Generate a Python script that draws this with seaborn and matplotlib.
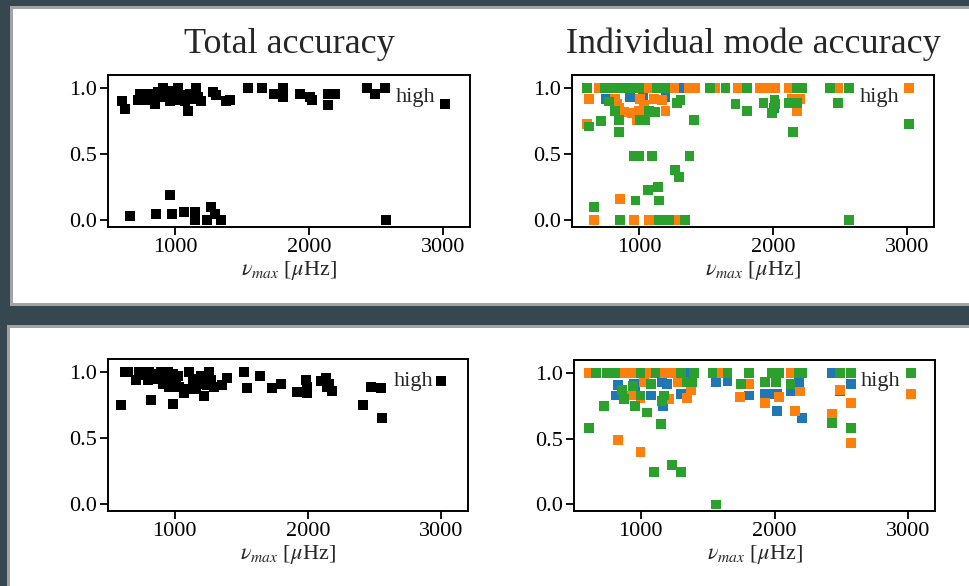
import matplotlib
matplotlib.use("Agg")
import matplotlib.pyplot as plt
from matplotlib.patches import Rectangle
import seaborn as sns
import pandas as pd

# ---- total accuracy per star (upper row) ----
tot_hi_nu = [604, 629, 664, 724, 736, 749, 774, 799, 823, 848, 856, 873, 898, 910, 935, 960,
             963, 975, 985, 998, 1022, 1035, 1060, 1069, 1072, 1097, 1110, 1134, 1149, 1149,
             1159, 1172, 1197, 1236, 1269, 1284, 1299, 1309, 1341, 1383, 1408, 1545, 1649,
             1737, 1806, 1806, 1933, 2007, 2020, 2142, 2142, 2194, 2433, 2493, 2567, 2572, 3015]
tot_hi_acc = [0.90, 0.84, 0.03, 0.91, 0.96, 0.91, 0.95, 0.96, 0.91, 0.88, 0.05, 0.97, 0.93,
              1.00, 0.93, 0.90, 0.19, 0.05, 0.98, 0.91, 1.00, 0.91, 0.95, 0.06, 0.90, 0.83,
              0.96, 0.92, 0.06, 0.00, 1.00, 0.93, 0.90, 0.00, 0.10, 0.97, 0.05, 0.95, 0.00,
              0.90, 0.91, 1.00, 1.00, 0.96, 1.00, 0.93, 0.96, 0.93, 0.91, 0.96, 0.87, 0.96,
              1.00, 0.96, 1.00, 0.00, 0.88]

# ---- total accuracy per star (lower row) ----
tot_lo_nu = [595, 624, 649, 711, 736, 761, 774, 799, 811, 823, 836, 873, 898, 910, 935, 948,
             960, 985, 990, 1010, 1022, 1035, 1072, 1085, 1110, 1134, 1147, 1159, 1184, 1197,
             1222, 1246, 1259, 1271, 1296, 1358, 1396, 1520, 1540, 1640, 1729, 1796, 1920,
             1983, 1995, 1995, 2095, 2133, 2145, 2158, 2182, 2413, 2473, 2547, 2555, 3000]
tot_lo_acc = [0.75, 1.00, 1.00, 0.94, 1.00, 1.00, 0.98, 0.94, 1.00, 0.79, 0.99, 0.95, 1.00,
              0.91, 0.96, 1.00, 0.89, 0.99, 0.76, 0.93, 0.97, 0.89, 0.84, 0.87, 1.00, 0.95,
              0.90, 0.87, 0.91, 0.97, 0.82, 0.90, 1.00, 0.94, 0.89, 0.90, 0.96, 1.00, 0.88,
              0.97, 0.88, 0.91, 0.85, 0.94, 0.89, 0.84, 0.93, 0.96, 0.89, 0.91, 0.86, 0.75,
              0.89, 0.88, 0.65, 0.93]

# ---- individual mode accuracy (upper row) ----
l0_hi_nu = [754, 933, 1032, 1197, 1306, 2005, 2152]
l0_hi_acc = [0.92, 0.93, 0.93, 0.93, 1.00, 0.85, 0.92]
l1_hi_nu = [699, 1072, 1259, 1371, 1421, 1570, 1737, 1905, 1960, 2015, 2115, 2483, 3015,
            624, 823, 1010, 1110, 1172, 836, 848, 886, 948, 998, 1035, 1197, 985, 612, 856,
            2140, 2202, 2177, 662, 960, 1072, 1284]
l1_hi_acc = [1.00, 1.00, 1.00, 1.00, 1.00, 1.00, 1.00, 1.00, 1.00, 1.00, 1.00, 1.00, 1.00,
             0.92, 0.92, 0.92, 0.92, 0.91, 0.88, 0.85, 0.82, 0.81, 0.83, 0.87, 0.83, 0.76,
             0.73, 0.16, 0.92, 0.92, 0.83, 0.00, 0.00, 0.00, 0.00]
l2_hi_nu = [612, 749, 811, 873, 935, 998, 1134, 1192, 1528, 1645, 1806, 2177, 2214, 2426, 2563,
            1309, 1284, 774, 823, 1072, 1122, 1010, 1047, 624, 719, 848, 848, 1408, 960, 998,
            1097, 1376, 1271, 1296, 1067, 1142, 973, 1147, 662, 861, 1147, 1222, 1341, 1719,
            1806, 1928, 2010, 2015, 1990, 2115, 2177, 2147, 2483, 3015, 2568]
l2_hi_acc = [1.00, 1.00, 1.00, 1.00, 1.00, 1.00, 1.00, 1.00, 1.00, 1.00, 1.00, 1.00, 1.00,
             1.00, 1.00, 0.91, 0.89, 0.90, 0.83, 0.83, 0.82, 0.76, 0.76, 0.71, 0.75, 0.76,
             0.67, 0.76, 0.49, 0.49, 0.49, 0.49, 0.38, 0.33, 0.23, 0.25, 0.15, 0.15, 0.10,
             0.00, 0.00, 0.00, 0.00, 0.88, 0.83, 0.89, 0.91, 0.88, 0.81, 0.89, 0.89, 0.67,
             0.89, 0.73, 0.00]

# ---- individual mode accuracy (lower row) ----
l0_lo_nu = [830, 947, 1160, 1198, 1335, 1561, 1648, 1811, 810, 960, 1078, 1168, 1298, 1931,
            1969, 2019, 2126, 2181, 2019, 2206, 2427, 2489, 2569]
l0_lo_acc = [0.91, 0.92, 0.93, 0.92, 1.00, 0.93, 0.94, 0.83, 0.83, 0.88, 0.83, 0.75, 0.84,
             0.84, 0.84, 0.84, 0.86, 0.93, 0.71, 0.66, 1.00, 0.86, 0.92]
l1_lo_nu = [610, 872, 927, 1053, 1172, 1240, 1578, 2119, 1023, 1278, 1373, 1811, 1744, 935,
            998, 1210, 1343, 2031, 1931, 2189, 2151, 2489, 2569, 2432, 2569, 830, 998, 3020]
l1_lo_acc = [1.00, 1.00, 1.00, 1.00, 1.00, 1.00, 1.00, 1.00, 0.93, 0.93, 0.87, 0.92, 0.82,
             0.83, 0.81, 0.80, 0.81, 0.82, 0.77, 0.86, 0.71, 0.87, 0.77, 0.69, 0.47, 0.49,
             0.40, 0.84]
l2_lo_nu = [667, 747, 810, 998, 1110, 1298, 1398, 1536, 1648, 1811, 1981, 2031, 2181, 2206,
            2487, 2569, 3020, 1078, 1348, 1386, 1748, 860, 872, 943, 998, 1172, 1160, 722,
            955, 1048, 1148, 610, 1230, 1098, 1298, 1561, 1931, 2011, 2119, 2432, 2569]
l2_lo_acc = [1.00, 1.00, 1.00, 1.00, 1.00, 1.00, 1.00, 1.00, 1.00, 1.00, 1.00, 1.00, 1.00,
             1.00, 1.00, 1.00, 1.00, 0.92, 0.93, 0.93, 0.92, 0.87, 0.80, 0.90, 0.83, 0.83,
             0.79, 0.75, 0.75, 0.70, 0.61, 0.58, 0.30, 0.25, 0.25, 0.00, 0.93, 0.93, 0.92,
             0.62, 0.58]

mode_names = ["l=0", "l=1", "l=2"]
mode_colors = ["#1f77b4", "#ff7f0e", "#2ca02c"]
x_ticks = [1000, 2000, 3000]
y_ticks = [0.0, 0.5, 1.0]
titles = ["Total accuracy", "Individual mode accuracy"]
tag = "high"


def mode_frame(groups):
    parts = []
    for name, (nu, acc) in zip(mode_names, groups):
        parts.append(pd.DataFrame({"nu": nu, "acc": acc, "mode": name}))
    return pd.concat(parts, ignore_index=True)


sns.set_theme(style="ticks")
plt.rcParams["font.family"] = ["Liberation Serif", "DejaVu Serif"]
plt.rcParams["mathtext.fontset"] = "stix"
plt.rcParams["axes.linewidth"] = 1.4
plt.rcParams["xtick.major.width"] = 1.3
plt.rcParams["ytick.major.width"] = 1.3
plt.rcParams["xtick.major.size"] = 5.5
plt.rcParams["ytick.major.size"] = 5.5
plt.rcParams["xtick.major.pad"] = 2.5
plt.rcParams["ytick.major.pad"] = 2.5
plt.rcParams["xtick.color"] = "black"
plt.rcParams["ytick.color"] = "black"
plt.rcParams["axes.edgecolor"] = "black"

W, H = 969, 586
fig = plt.figure(figsize=(W / 100, H / 100), dpi=100, facecolor="#37474f")


def card(x0, y0, x1, y1):
    # grey frame with a white panel inside, given in pixel coordinates from the top-left
    fig.patches.append(Rectangle((x0 / W, 1 - y1 / H), (x1 - x0) / W, (y1 - y0) / H,
                                 transform=fig.transFigure, facecolor="#a3a3a3",
                                 edgecolor="none", zorder=-2))
    fig.patches.append(Rectangle(((x0 + 3) / W, 1 - (y1 - 3) / H), (x1 - x0 - 3) / W,
                                 (y1 - y0 - 6) / H, transform=fig.transFigure,
                                 facecolor="white", edgecolor="none", zorder=-1))


card(10, 6, 990, 306)
card(7, 325, 990, 600)


def axes_px(x0, y0, x1, y1):
    return fig.add_axes([x0 / W, 1 - y1 / H, (x1 - x0) / W, (y1 - y0) / H])


ax_tl = axes_px(108, 75, 470, 227)
ax_tr = axes_px(572, 75, 934, 227)
ax_bl = axes_px(108, 359, 468, 511)
ax_br = axes_px(574, 360, 935, 511)

marker_size = 50

for ax, nu, acc in [(ax_tl, tot_hi_nu, tot_hi_acc), (ax_bl, tot_lo_nu, tot_lo_acc)]:
    sns.scatterplot(x=nu, y=acc, color="black", marker="s", s=marker_size,
                    linewidth=0, ax=ax, legend=False)

df_hi = mode_frame([(l0_hi_nu, l0_hi_acc), (l1_hi_nu, l1_hi_acc), (l2_hi_nu, l2_hi_acc)])
df_lo = mode_frame([(l0_lo_nu, l0_lo_acc), (l1_lo_nu, l1_lo_acc), (l2_lo_nu, l2_lo_acc)])
for ax, df in [(ax_tr, df_hi), (ax_br, df_lo)]:
    sns.scatterplot(data=df, x="nu", y="acc", hue="mode", hue_order=mode_names,
                    palette=mode_colors, marker="s", s=marker_size, linewidth=0,
                    ax=ax, legend=False)

for ax in [ax_tl, ax_tr, ax_bl, ax_br]:
    ax.set_facecolor("white")
    ax.set_xlim(500, 3200)
    ax.set_ylim(-0.05, 1.1)
    ax.set_xticks(x_ticks)
    ax.set_xticklabels([str(t) for t in x_ticks], fontsize=16)
    ax.set_yticks(y_ticks)
    ax.set_yticklabels([f"{t:.1f}" for t in y_ticks], fontsize=16)
    ax.set_xlabel(r"$\nu_{max}$ [$\mu$Hz]", fontsize=16, labelpad=1)
    ax.set_ylabel("")
    for sp in ax.spines.values():
        sp.set_visible(True)
        sp.set_color("black")
    ax.text(0.795, 0.855, tag, transform=ax.transAxes, fontsize=16,
            ha="left", va="center")

ax_tl.set_title(titles[0], fontsize=26, pad=16)
ax_tr.set_title(titles[1], fontsize=26, pad=16)

fig.savefig("out.png", dpi=100, facecolor=fig.get_facecolor())
